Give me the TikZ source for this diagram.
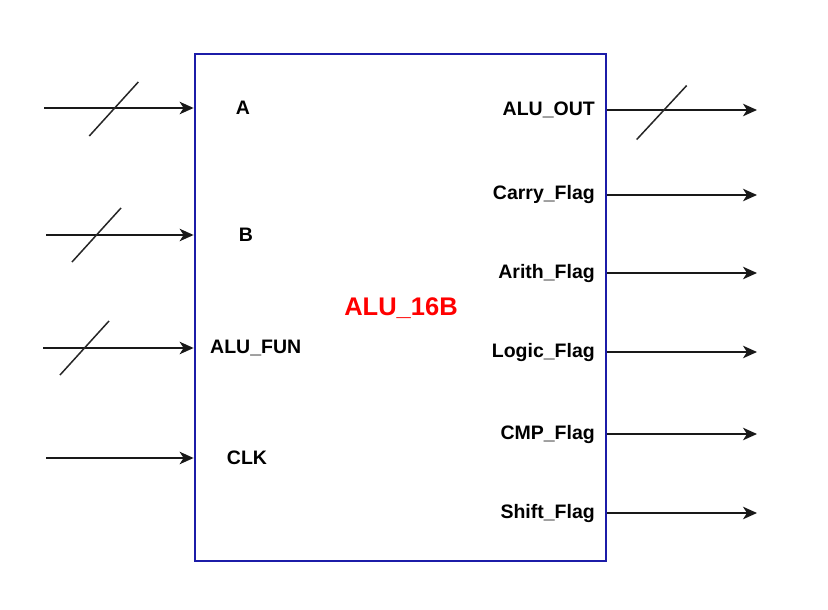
\documentclass[tikz,border=0pt]{standalone}
\usepackage{fontspec}
\setmainfont{Liberation Sans}
\usepackage{xcolor}
\usetikzlibrary{arrows.meta}

\definecolor{alublue}{RGB}{28,28,168}

\tikzset{
    portlbl/.style={font=\bfseries\fontsize{19.5}{21}\selectfont, inner sep=0pt},
    sig/.style={-{Stealth[length=14pt,width=12.5pt,inset=4pt]}, line width=1.6pt, black!90},
    busmark/.style={line width=1.5pt, black!85}
}

\begin{document}
\begin{tikzpicture}[x=1pt,y=-1pt]
    \useasboundingbox (0,0) rectangle (828,610);

    % Draw ALU box
    \node[draw=alublue, line width=2.8pt, minimum width=411pt, minimum height=507pt, inner sep=0pt] (alu) at (400.5,307.5) {};
    \node[red, font=\bfseries\fontsize{25.5}{27}\selectfont] (title) at (401,308) {ALU\_16B};

    % Input labels
    \node[portlbl] (lA) at (243,108) {A};
    \node[portlbl] (lB) at (246,235) {B};
    \node[portlbl, anchor=west] (lFUN) at (210,348) {ALU\_FUN};
    \node[portlbl] (lCLK) at (247,458) {CLK};

    % Input signals
    \foreach \nm/\y/\x in {A/108/44, B/235/46, FUN/348/43, CLK/458/46} {
        \coordinate (in\nm) at (\x,\y);
        \coordinate (p\nm) at (alu.west |- in\nm);
        \draw[sig] (in\nm) -- (p\nm);
    }

    % Bus width marks
    \draw[busmark] (113.8,109) +(-24.5,27) -- +(24.5,-27);
    \draw[busmark] (96.5,235) +(-24.5,27) -- +(24.5,-27);
    \draw[busmark] (84.5,348) +(-24.5,27) -- +(24.5,-27);

    % Outputs
    \foreach \lbl/\y [count=\i] in {ALU\_OUT/110, Carry\_Flag/195, Arith\_Flag/273, Logic\_Flag/352, CMP\_Flag/434, Shift\_Flag/513} {
        \node[portlbl, anchor=east] (o\i) at (595,\y) {\lbl};
        \coordinate (q\i) at (alu.east |- o\i);
        \coordinate (out\i) at (757,\y);
        \draw[sig] (q\i) -- (out\i);
    }
    \draw[busmark] (661.7,112.5) +(-25,27) -- +(25,-27);
\end{tikzpicture}
\end{document}
